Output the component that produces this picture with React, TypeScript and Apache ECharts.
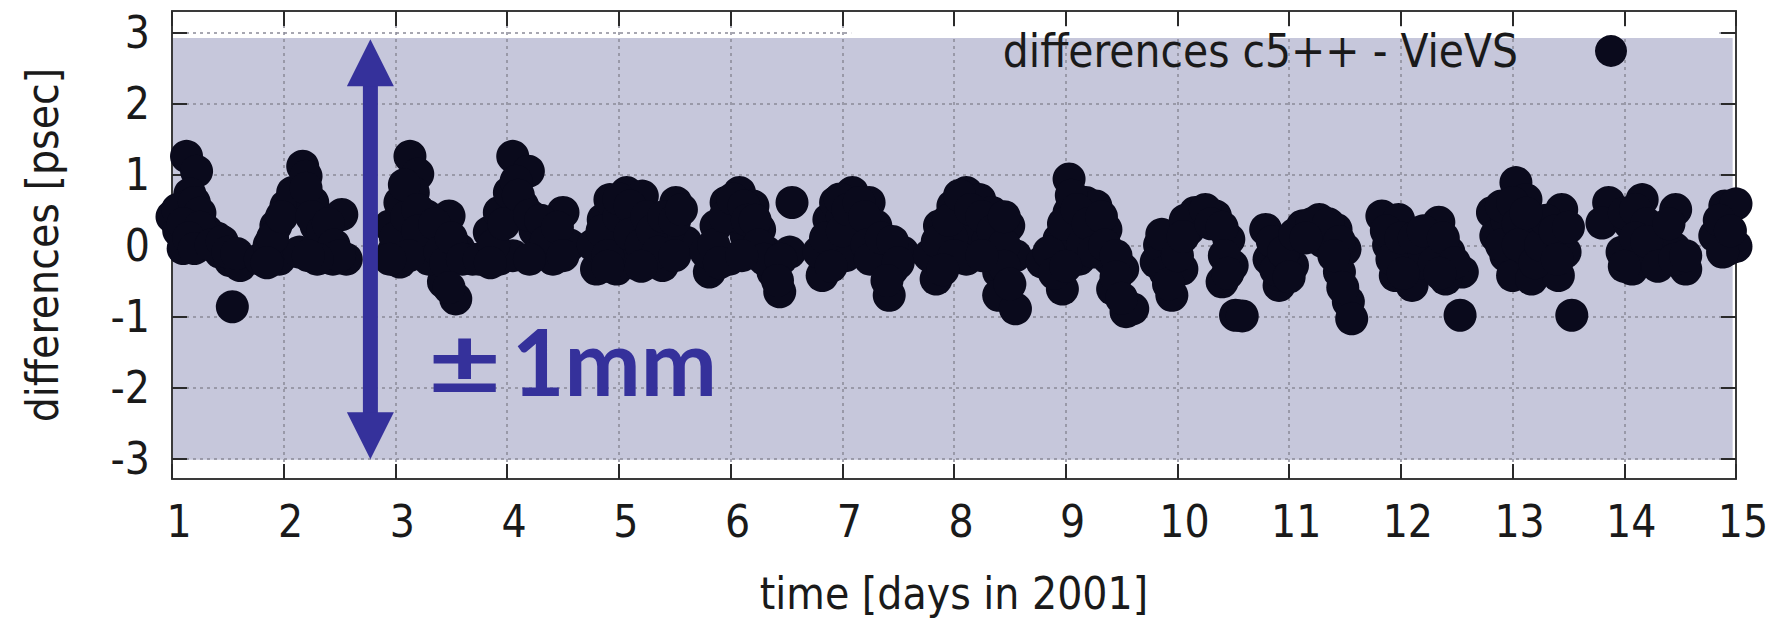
import React, { useEffect, useRef } from "react";
import * as echarts from "echarts";

// ---------- data ----------
const X_MIN = 1;
const X_MAX = 15;
const Y_MIN = -3.3;
const Y_MAX = 3.3;
const Y_TICK_MIN = -3;
const Y_TICK_MAX = 3;

const seriesName = "differences c5++ - VieVS";
const xTitle = "time [days in 2001]";
const yTitle = "differences [psec]";

// [day, difference in psec]
const day01 = [[1.0, 0.4], [1.13, 1.25], [1.22, 1.04], [1.16, 0.72], [1.14, 0.55], [1.19, 0.36], [1.06, 0.2], [1.1, -0.05], [1.28, 0.05], [1.31, 0.2], [1.4, 0.1], [1.43, -0.1], [1.52, -0.22], [1.61, -0.29], [1.54, -0.87],
  [1.05, 0.5], [1.2, 0.6], [1.25, 0.45], [1.1, 0.3], [1.25, 0.25], [1.15, 0.1], [1.2, -0.05], [1.35, 0.0], [1.45, 0.05], [1.5, -0.1], [1.58, -0.12]];
const day02 = [[1.79, -0.2], [1.87, 0.0], [1.93, 0.27], [2.02, 0.55], [2.08, 0.74], [2.17, 1.11], [2.2, 0.97], [2.26, 0.6], [2.29, 0.27], [2.35, 0.0], [2.44, -0.2], [2.56, -0.2], [2.52, 0.43], [1.96, -0.2], [2.14, -0.1],
  [1.9, 0.1], [1.98, 0.4], [2.2, 0.8], [2.25, 0.4], [2.35, 0.2], [2.4, 0.3], [2.45, 0.0], [2.5, -0.15], [2.3, -0.2], [2.22, -0.15], [1.85, -0.25]];
const day03 = [[2.98, -0.1], [2.95, 0.27], [3.04, 0.6], [3.13, 1.25], [3.2, 1.0], [3.16, 0.74], [3.28, 0.41], [3.37, 0.13], [3.48, 0.41], [3.57, -0.06], [3.69, -0.2], [3.43, -0.52], [3.54, -0.76], [3.04, -0.24], [3.22, 0.0], [3.3, -0.2],
  [3.0, 0.1], [3.1, 0.4], [3.08, 0.85], [3.2, 0.5], [3.2, 0.2], [3.12, -0.15], [3.35, 0.3], [3.4, -0.1], [3.45, -0.25], [3.5, 0.1], [3.6, -0.2], [3.48, -0.6], [2.95, -0.2]];
const day04 = [[3.75, -0.2], [3.84, 0.18], [3.93, 0.46], [4.02, 0.74], [4.05, 1.25], [4.19, 1.04], [4.14, 0.55], [4.25, 0.2], [4.29, -0.1], [4.41, -0.2], [4.56, 0.0], [4.5, 0.46], [3.93, -0.2], [4.05, -0.15],
  [3.88, 0.0], [3.97, 0.3], [4.08, 0.9], [4.1, 0.7], [4.2, 0.42], [4.3, 0.35], [4.35, 0.05], [4.45, 0.25], [4.5, -0.15], [4.2, -0.2], [3.85, -0.25]];
const day05 = [[4.8, -0.34], [4.77, 0.0], [4.86, 0.36], [4.92, 0.64], [5.07, 0.74], [5.21, 0.69], [5.15, 0.36], [5.04, 0.0], [4.98, -0.34], [5.27, -0.1], [5.39, -0.29], [5.51, 0.6], [5.6, 0.04], [5.45, 0.22], [5.12, -0.25],
  [4.85, 0.2], [4.9, -0.15], [5.0, 0.4], [5.0, 0.65], [5.1, 0.55], [5.1, 0.15], [5.2, 0.0], [5.25, 0.4], [5.3, 0.2], [5.35, -0.1], [5.4, 0.4], [5.5, 0.35], [5.5, -0.15], [5.56, 0.5], [4.9, -0.3], [5.2, -0.3]];
const day06 = [[5.81, -0.38], [5.78, -0.1], [5.87, 0.27], [5.96, 0.6], [6.08, 0.74], [6.2, 0.55], [6.26, 0.22], [6.32, -0.1], [5.99, -0.2], [6.14, 0.13], [6.44, -0.66], [6.38, -0.38], [6.55, 0.6], [6.53, -0.1], [6.05, 0.4],
  [5.85, 0.0], [5.9, -0.25], [5.95, 0.4], [6.02, 0.65], [6.12, 0.55], [6.15, 0.35], [6.22, 0.35], [6.25, 0.0], [6.3, -0.2], [6.1, -0.15], [6.45, -0.2], [6.42, -0.5]];
const day07 = [[6.82, -0.43], [6.79, -0.1], [6.88, 0.36], [6.94, 0.6], [7.09, 0.74], [7.24, 0.6], [7.3, 0.27], [7.15, 0.22], [7.03, -0.15], [7.36, -0.1], [7.54, -0.1], [7.45, -0.34], [7.42, -0.71], [7.0, 0.4],
  [6.85, 0.1], [6.9, -0.3], [6.98, 0.65], [7.0, 0.2], [7.05, 0.5], [7.15, 0.6], [7.2, 0.4], [7.22, 0.0], [7.25, -0.2], [7.35, 0.1], [7.45, 0.05], [7.5, -0.25], [7.4, -0.5]];
const day08 = [[7.84, -0.48], [7.78, -0.15], [7.87, 0.27], [7.99, 0.55], [8.11, 0.74], [8.23, 0.64], [8.34, 0.46], [8.49, 0.27], [8.55, -0.15], [8.4, -0.38], [8.4, -0.71], [8.55, -0.9], [8.11, -0.2], [8.2, 0.22], [7.98, 0.1], [8.3, 0.05],
  [7.85, 0.05], [7.95, 0.35], [8.05, 0.7], [8.15, 0.5], [8.25, 0.4], [8.35, 0.2], [8.45, 0.0], [8.0, -0.15], [7.9, -0.35], [8.45, -0.3], [8.5, -0.55], [8.25, -0.15], [8.45, 0.4]];
const day09 = [[8.79, -0.24], [8.97, -0.62], [9.03, 0.93], [9.03, 0.46], [8.94, 0.08], [9.18, 0.6], [9.12, -0.2], [9.27, 0.18], [9.27, 0.55], [9.36, 0.22], [9.39, -0.2], [9.51, -0.34], [9.42, -0.62], [9.54, -0.94], [9.6, -0.9], [9.1, 0.25],
  [8.85, -0.1], [8.9, -0.4], [8.98, 0.3], [9.05, 0.7], [9.1, 0.5], [9.15, 0.0], [9.2, 0.3], [9.25, -0.1], [9.32, 0.4], [9.35, 0.0], [9.45, -0.15], [9.45, -0.45], [9.5, -0.75], [9.0, -0.3]];
const day10 = [[9.84, 0.0], [9.81, -0.24], [9.89, -0.38], [9.95, -0.71], [10.04, -0.34], [9.98, 0.0], [10.1, 0.22], [10.16, 0.46], [10.34, 0.41], [10.46, 0.08], [10.49, -0.29], [10.4, -0.52], [10.52, -0.99], [10.58, -1.0],
  [9.86, 0.15], [9.92, -0.55], [10.0, -0.15], [10.07, 0.35], [10.05, 0.12], [10.25, 0.5], [10.3, 0.3], [10.4, 0.25], [10.42, -0.15], [10.45, -0.4]];
const day11 = [[10.79, 0.22], [10.82, -0.2], [10.91, -0.57], [11.03, -0.29], [11.0, 0.0], [11.12, 0.27], [11.27, 0.36], [11.42, 0.22], [11.5, -0.06], [11.45, -0.38], [11.53, -0.8], [11.56, -1.04], [11.3, 0.05],
  [10.85, 0.05], [10.88, -0.35], [10.95, -0.1], [11.05, 0.15], [11.2, 0.3], [11.35, 0.3], [11.45, 0.05], [11.4, -0.15], [11.48, -0.6], [11.15, 0.1], [11.0, -0.45]];
const day12 = [[11.83, 0.41], [11.89, 0.0], [11.95, -0.43], [11.98, 0.36], [12.07, -0.2], [12.1, -0.57], [12.34, 0.32], [12.28, 0.0], [12.43, -0.1], [12.55, -0.38], [12.4, -0.48], [12.53, -0.99], [12.18, -0.25],
  [11.87, 0.2], [11.92, -0.2], [12.0, 0.1], [12.02, -0.4], [12.12, 0.1], [12.2, 0.2], [12.3, -0.25], [12.38, 0.1], [12.48, -0.25], [12.35, -0.4]];
const day13 = [[13.03, 0.88], [13.12, 0.64], [12.82, 0.46], [12.85, 0.13], [12.94, -0.15], [13.0, -0.43], [13.17, -0.48], [13.12, -0.06], [13.17, 0.27], [13.44, 0.5], [13.47, -0.1], [13.41, -0.43], [13.53, -0.99], [12.95, 0.35], [13.3, 0.15],
  [12.9, 0.55], [12.9, 0.0], [13.0, 0.6], [13.05, 0.3], [13.05, 0.0], [13.2, -0.25], [13.25, 0.0], [13.3, 0.35], [13.38, 0.2], [13.4, -0.2], [13.5, 0.25], [13.12, 0.45]];
const day14 = [[13.86, 0.6], [13.8, 0.31], [14.16, 0.64], [13.98, -0.1], [14.07, -0.34], [14.25, -0.15], [14.34, 0.13], [14.46, 0.5], [14.55, -0.34], [14.45, -0.05], [14.81, 0.13], [14.9, 0.55], [14.93, -0.06], [15.0, 0.58], [15.0, -0.02], [14.05, 0.3],
  [14.0, 0.45], [14.1, 0.5], [14.2, 0.3], [14.1, 0.1], [14.2, 0.05], [14.3, -0.3], [14.4, 0.3], [14.45, -0.2], [14.55, -0.15], [14.0, -0.3], [14.85, 0.35], [14.88, -0.1], [14.95, 0.2]];

const sessions = [day01, day02, day03, day04, day05, day06, day07, day08, day09, day10, day11, day12, day13, day14];

// shaded band [x0, x1, y0, y1] and the key's opaque box
const shadeBox = [1, 14.97, -3.03, 2.92];
const keyBox = [7.08, 14.85, 2.92, 3.08];
// arrow: [x, yTop, yBottom]
const arrowSpan = [2.776, 2.9, -3.02];
const arrowSign = "±";
const arrowValue = "1mm";
const arrowTextPos = [3.29, -1.63];

// ---------- styles ----------
const FONT = "'DejaVu Sans Condensed', 'DejaVu Sans', sans-serif";
const LABEL_FONT = "Lato, 'Open Sans', sans-serif";
const TEXT_COLOR = "#1a1a1a";
const DOT_COLOR = "#0a0a1c";
const SHADE_COLOR = "#c6c7db";
const ARROW_COLOR = "#35319b";
const GRID = { left: 172, right: 50, top: 11, bottom: 140 };
const HEIGHT = 620;
const WIDTH = 1786;
const axisLine = { show: true, onZero: false, lineStyle: { color: "#3a3a3a", width: 2 } };
const tick = { show: true, inside: true, length: 15, lineStyle: { color: "#2a2a2a", width: 2 } };
const gridLine = { show: true, lineStyle: { color: "#8a8a98", width: 1.5, type: [3, 4] } };

export default function App() {
  const ref = useRef<HTMLDivElement>(null);

  useEffect(() => {
    if (!ref.current) return;
    const chart = echarts.init(ref.current, undefined, { renderer: "svg" });

    const plotH = HEIGHT - GRID.top - GRID.bottom;
    const pxPerUnit = plotH / (Y_MAX - Y_MIN);
    const grid2 = {
      left: GRID.left,
      right: GRID.right,
      top: GRID.top + (Y_MAX - Y_TICK_MAX) * pxPerUnit,
      bottom: GRID.bottom + (Y_TICK_MIN - Y_MIN) * pxPerUnit,
    };

    const points = sessions.flat();

    const rectItem = (fill: string) => (params: any, api: any) => {
      const p0 = api.coord([api.value(0), api.value(3)]);
      const p1 = api.coord([api.value(1), api.value(2)]);
      return {
        type: "rect",
        shape: { x: p0[0], y: p0[1], width: p1[0] - p0[0], height: p1[1] - p0[1] },
        style: { fill },
      };
    };

    const option: any = {
      animation: false,
      backgroundColor: "#ffffff",
      textStyle: { fontFamily: FONT },
      grid: [
        { ...GRID, containLabel: false },
        { ...grid2, containLabel: false },
      ],
      legend: {
        data: [seriesName],
        right: 154,
        top: 23,
        align: "right",
        icon: "circle",
        itemWidth: 32,
        itemHeight: 32,
        selectedMode: false,
        textStyle: { fontSize: 45.5, fontFamily: FONT, color: TEXT_COLOR, padding: [0, 72, 0, 0] },
        itemStyle: { color: DOT_COLOR },
      },
      xAxis: [
        {
          type: "value",
          gridIndex: 0,
          min: X_MIN,
          max: X_MAX,
          interval: 1,
          position: "bottom",
          z: 1,
          axisLine,
          axisTick: tick,
          axisLabel: { fontSize: 44, color: TEXT_COLOR, margin: 20, fontFamily: FONT, padding: [0, 0, 0, 14] },
          splitLine: gridLine,
          name: xTitle,
          nameLocation: "middle",
          nameGap: 92,
          nameTextStyle: { fontSize: 44, color: TEXT_COLOR, fontFamily: FONT },
        },
        {
          type: "value",
          gridIndex: 0,
          min: X_MIN,
          max: X_MAX,
          interval: 1,
          position: "top",
          z: 1,
          axisLine,
          axisTick: tick,
          axisLabel: { show: false },
          splitLine: { show: false },
        },
        { type: "value", gridIndex: 1, min: X_MIN, max: X_MAX, show: false, axisLine: { show: false, onZero: false } },
      ],
      yAxis: [
        {
          type: "value",
          gridIndex: 0,
          min: Y_MIN,
          max: Y_MAX,
          position: "left",
          z: 1,
          axisLine,
          axisTick: { show: false },
          axisLabel: { show: false },
          splitLine: { show: false },
          name: yTitle,
          nameLocation: "middle",
          nameGap: 108,
          nameTextStyle: { fontSize: 44, color: TEXT_COLOR, fontFamily: FONT },
        },
        {
          type: "value",
          gridIndex: 0,
          min: Y_MIN,
          max: Y_MAX,
          position: "right",
          z: 1,
          axisLine,
          axisTick: { show: false },
          axisLabel: { show: false },
          splitLine: { show: false },
        },
        {
          type: "value",
          gridIndex: 1,
          min: Y_TICK_MIN,
          max: Y_TICK_MAX,
          interval: 1,
          position: "left",
          z: 1,
          axisLine: { show: false, onZero: false },
          axisTick: tick,
          axisLabel: { fontSize: 44, color: TEXT_COLOR, margin: 22, fontFamily: FONT },
          splitLine: gridLine,
        },
        {
          type: "value",
          gridIndex: 1,
          min: Y_TICK_MIN,
          max: Y_TICK_MAX,
          interval: 1,
          position: "right",
          z: 1,
          axisLine: { show: false, onZero: false },
          axisTick: tick,
          axisLabel: { show: false },
          splitLine: { show: false },
        },
      ],
      series: [
        {
          type: "custom",
          xAxisIndex: 0,
          yAxisIndex: 0,
          z: 0,
          silent: true,
          data: [shadeBox],
          renderItem: rectItem(SHADE_COLOR),
        },
        {
          type: "custom",
          xAxisIndex: 0,
          yAxisIndex: 0,
          z: 1.5,
          silent: true,
          data: [keyBox],
          renderItem: rectItem("#ffffff"),
        },
        {
          name: seriesName,
          type: "scatter",
          xAxisIndex: 0,
          yAxisIndex: 0,
          z: 3,
          clip: false,
          symbol: "circle",
          symbolSize: 33,
          itemStyle: { color: DOT_COLOR, opacity: 1 },
          data: points,
        },
        {
          type: "custom",
          xAxisIndex: 0,
          yAxisIndex: 0,
          z: 4,
          silent: true,
          data: [arrowSpan],
          renderItem: (params: any, api: any) => {
            const top = api.coord([api.value(0), api.value(1)]);
            const bot = api.coord([api.value(0), api.value(2)]);
            const cx = top[0];
            const headL = 47;
            const headW = 47;
            const shaftW = 15;
            const tp = api.coord(arrowTextPos);
            const textStyle = {
              fill: ARROW_COLOR,
              fontSize: 91,
              fontWeight: "bold",
              fontFamily: LABEL_FONT,
              align: "left",
              verticalAlign: "middle",
            };
            return {
              type: "group",
              children: [
                {
                  type: "rect",
                  shape: { x: cx - shaftW / 2, y: top[1] + headL - 2, width: shaftW, height: bot[1] - top[1] - 2 * headL + 4 },
                  style: { fill: ARROW_COLOR },
                },
                {
                  type: "polygon",
                  shape: { points: [[cx, top[1]], [cx - headW / 2, top[1] + headL], [cx + headW / 2, top[1] + headL]] },
                  style: { fill: ARROW_COLOR },
                },
                {
                  type: "polygon",
                  shape: { points: [[cx, bot[1]], [cx - headW / 2, bot[1] - headL], [cx + headW / 2, bot[1] - headL]] },
                  style: { fill: ARROW_COLOR },
                },
                {
                  type: "text",
                  x: tp[0],
                  y: tp[1],
                  scaleX: 1.4,
                  style: { ...textStyle, text: arrowSign },
                },
                {
                  type: "text",
                  x: tp[0] + 84,
                  y: tp[1],
                  style: { ...textStyle, text: arrowValue },
                },
              ],
            };
          },
        },
      ],
    };

    chart.setOption(option);
    return () => chart.dispose();
  }, []);

  return (
    <div
      ref={ref}
      style={{ position: "absolute", left: 0, top: 0, width: WIDTH, height: HEIGHT, background: "#fff" }}
    />
  );
}
